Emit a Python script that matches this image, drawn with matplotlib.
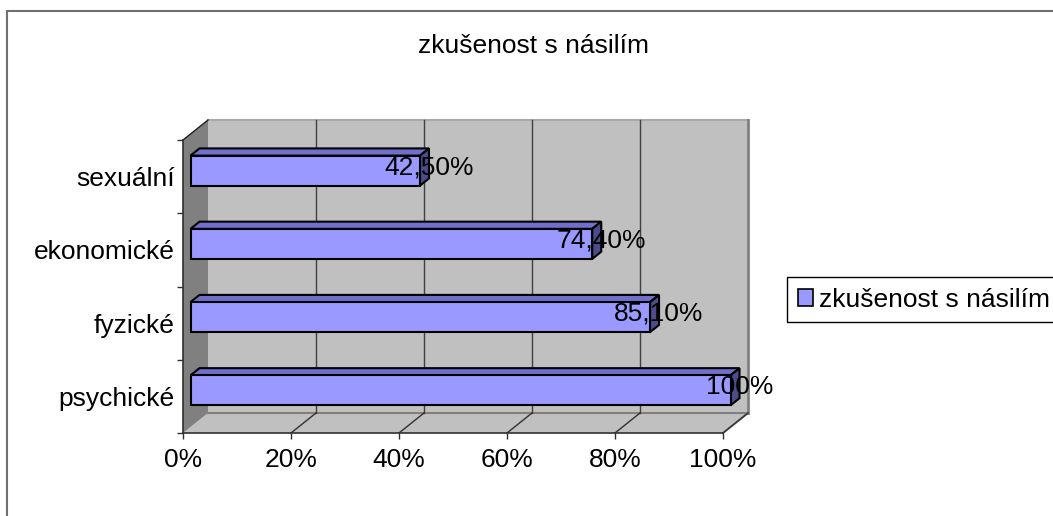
import matplotlib.pyplot as plt
from matplotlib.patches import Polygon, Patch
from matplotlib.lines import Line2D
from matplotlib.transforms import IdentityTransform

plt.rcParams['font.family'] = ['Liberation Sans', 'DejaVu Sans']

title = 'zkušenost s násilím'
series_name = 'zkušenost s násilím'
categories = ['psychické', 'fyzické', 'ekonomické', 'sexuální']
values = [100, 85.1, 74.4, 42.5]
value_labels = ['100%', '85,10%', '74,40%', '42,50%']
x_ticks = [0, 20, 40, 60, 80, 100]
x_tick_labels = ['0%', '20%', '40%', '60%', '80%', '100%']

W, H = 1053, 516
DX, DY = 25, 20          # pixel shift from front plane to back wall
BAR_T0, BAR_T1 = 0.3, 0.66
HALF = 0.205
FS = 19

fig = plt.figure(figsize=(W / 100, H / 100), dpi=100)
ax = fig.add_axes([183 / W, 83 / H, 540 / W, 293 / H])
ax.set_xlim(0, 100)
ax.set_ylim(-0.5, len(categories) - 0.5)
ax.patch.set_visible(False)
ident = IdentityTransform()


def proj(x, y, t):
    px, py = ax.transData.transform((x, y))
    return px + DX * t, py + DY * t


def face(points, **kw):
    p = Polygon([proj(*q) for q in points], closed=True, transform=ident, **kw)
    ax.add_patch(p)
    p.set_clip_on(False)
    return p


def edge(a, b, **kw):
    (x0, y0), (x1, y1) = proj(*a), proj(*b)
    ln = Line2D([x0, x1], [y0, y1], transform=ident, **kw)
    ax.add_line(ln)
    ln.set_clip_on(False)


top = len(categories) - 0.5
xmax = x_ticks[-1]

# walls and floor
face([(0, -0.5, 1), (xmax, -0.5, 1), (xmax, top, 1), (0, top, 1)],
     facecolor='#C0C0C0', edgecolor='none', zorder=0.5)
face([(0, -0.5, 0), (xmax, -0.5, 0), (xmax, -0.5, 1), (0, -0.5, 1)],
     facecolor='#C0C0C0', edgecolor='none', zorder=0.5)
face([(0, -0.5, 0), (0, top, 0), (0, top, 1), (0, -0.5, 1)],
     facecolor='#808080', edgecolor='none', zorder=0.6)

edge((0, top, 1), (xmax, top, 1), color='#A8A8A8', lw=1.5, zorder=0.7)
edge((xmax, -0.5, 1), (xmax, top, 1), color='#808080', lw=2, zorder=0.7)
edge((0, -0.5, 1), (xmax, -0.5, 1), color='#808080', lw=1.5, zorder=0.7)
edge((xmax, -0.5, 0), (xmax, -0.5, 1), color='#808080', lw=1.5, zorder=0.7)
edge((0, top, 0), (0, top, 1), color='#202020', lw=1, zorder=0.7)
for xv in x_ticks[1:-1]:
    edge((xv, -0.5, 1), (xv, top, 1), color='#404040', lw=1, zorder=0.7)
for xv in x_ticks[1:]:
    edge((xv, -0.5, 0), (xv, -0.5, 1), color='#303030', lw=1, zorder=0.7)

# bars
for i, v in enumerate(values):
    lo, hi = i - HALF, i + HALF
    style = dict(edgecolor='black', lw=1.5, joinstyle='miter', zorder=2)
    face([(0, hi, BAR_T0), (v, hi, BAR_T0), (v, hi, BAR_T1), (0, hi, BAR_T1)],
         facecolor='#7070CC', **style)
    face([(v, lo, BAR_T0), (v, hi, BAR_T0), (v, hi, BAR_T1), (v, lo, BAR_T1)],
         facecolor='#4C4C8C', **style)
    face([(0, lo, BAR_T0), (v, lo, BAR_T0), (v, hi, BAR_T0), (0, hi, BAR_T0)],
         facecolor='#9999FF', **style)
    ax.annotate(value_labels[i], xy=(v, i), xytext=(DX * BAR_T1, 9.5),
                textcoords='offset pixels', ha='center', va='center',
                fontsize=FS, zorder=3, annotation_clip=False)

# axes
for s in ['top', 'right']:
    ax.spines[s].set_visible(False)
for s in ['left', 'bottom']:
    ax.spines[s].set_color('#303030')
    ax.spines[s].set_linewidth(1.2)
    ax.spines[s].set_zorder(1)

ax.set_xticks(x_ticks)
ax.set_xticklabels(x_tick_labels, fontsize=FS)
ax.tick_params(axis='x', direction='out', length=4.5, width=1, color='#303030', pad=6)
ax.set_yticks(range(len(categories)))
ax.set_yticklabels(categories, fontsize=FS)
ax.set_yticks([k - 0.5 for k in range(len(categories) + 1)], minor=True)
ax.tick_params(axis='y', which='major', length=0, pad=6)
ax.tick_params(axis='y', which='minor', direction='out', length=4.5, width=1, color='#303030')

fig.text(533 / W, 1 - 46 / H, title, ha='center', va='center', fontsize=FS)

leg = fig.legend(handles=[Patch(facecolor='#9999FF', edgecolor='black', lw=1.2)],
                 labels=[series_name], loc='upper left',
                 bbox_to_anchor=(787 / W, 1 - 277 / H), fontsize=FS,
                 fancybox=False, framealpha=1, edgecolor='black',
                 handlelength=0.6, handleheight=0.6, handletextpad=0.2,
                 borderpad=0.4, borderaxespad=0)
leg.get_frame().set_linewidth(1)

# chart area border (cut by the image edge)
fig.add_artist(Line2D([7 / W, 7 / W], [0, 1 - 11 / H], color='#707070', lw=1.5))
fig.add_artist(Line2D([7 / W, 1], [1 - 11 / H, 1 - 11 / H], color='#707070', lw=1.5))

fig.savefig('out.png', dpi=100)
